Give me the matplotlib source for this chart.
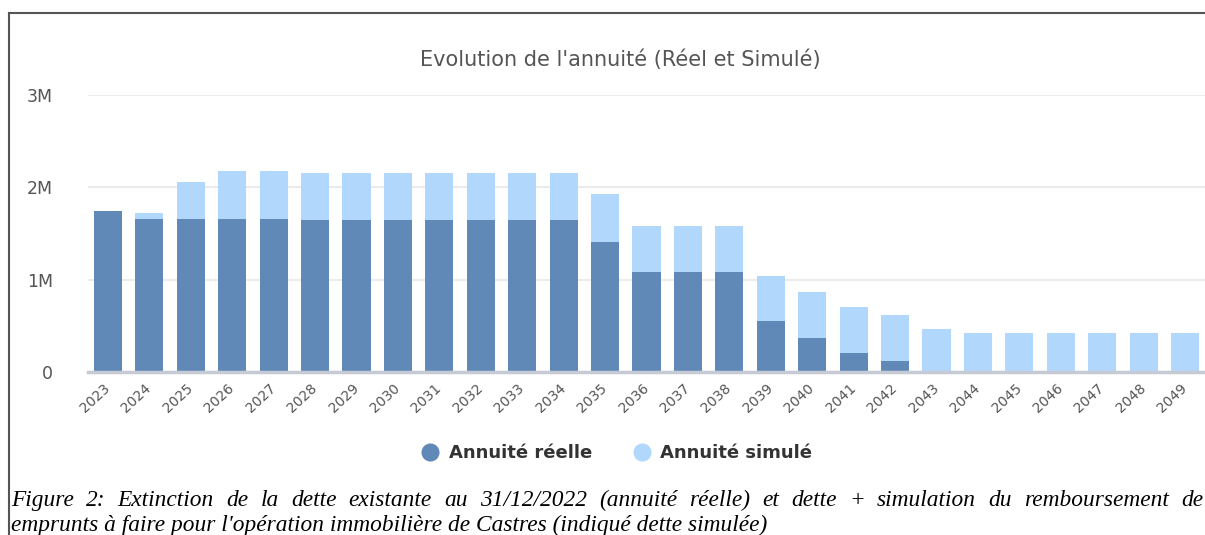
import numpy as np
import matplotlib.pyplot as plt
from matplotlib.lines import Line2D

years = [str(y) for y in range(2023, 2050)]
reelle = [1.745, 1.66, 1.66, 1.66, 1.66, 1.647, 1.647, 1.647, 1.647, 1.647, 1.647, 1.647,
          1.41, 1.08, 1.08, 1.08, 0.55, 0.367, 0.203, 0.123, 0, 0, 0, 0, 0, 0, 0]
total = [1.745, 1.726, 2.06, 2.18, 2.18, 2.15, 2.15, 2.15, 2.15, 2.15, 2.15, 2.15,
         1.926, 1.577, 1.577, 1.577, 1.043, 0.865, 0.70, 0.62, 0.469, 0.418, 0.418,
         0.418, 0.418, 0.418, 0.418]
simule = [t - r for t, r in zip(total, reelle)]
yticks = [0, 1, 2, 3]
ylabels = ["0", "1M", "2M", "3M"]

W, H = 1205, 535
fig = plt.figure(figsize=(W / 100, H / 100), dpi=100)
ax = fig.add_axes([88 / W, (H - 372) / H, (W - 88) / W, (372 - 95) / H])

x = np.arange(len(years))
c_dark = "#6189b7"
c_light = "#b1d7fd"
ax.bar(x, reelle, width=0.68, color=c_dark, label="Annuité réelle", zorder=3)
ax.bar(x, simule, width=0.68, bottom=reelle, color=c_light, label="Annuité simulé", zorder=3)

ax.set_xlim(-0.48, len(years) - 0.52)
ax.set_ylim(0, 3)
ax.set_yticks(yticks)
ax.set_yticklabels(ylabels, color="#555555", fontsize=12.5)
ax.tick_params(axis="y", length=0, pad=25)
ax.grid(axis="y", color="#ebebeb", linewidth=1.5, zorder=0)
ax.set_xticks(x)
ax.set_xticklabels(years, rotation=43, ha="right", va="center", rotation_mode="anchor",
                   fontsize=10, color="#555555")
ax.tick_params(axis="x", length=0, pad=10)
for s in ["top", "right", "left"]:
    ax.spines[s].set_visible(False)
ax.spines["bottom"].set_color("#c6cad4")
ax.spines["bottom"].set_linewidth(2.5)
ax.spines["bottom"].set_zorder(4)

fig.text(620 / W, 1 - 60 / H, "Evolution de l'annuité (Réel et Simulé)", ha="center", va="center",
         fontsize=15, color="#555555")

handles = [Line2D([], [], marker="o", linestyle="", markersize=13, color=c, markeredgewidth=0)
           for c in (c_dark, c_light)]
fig.legend(handles, ["Annuité réelle", "Annuité simulé"], loc="center", ncol=2,
           bbox_to_anchor=(616 / W, 1 - 453 / H), frameon=False, handletextpad=0.4,
           handlelength=1.2, columnspacing=2.2, prop={"size": 13, "weight": "bold"},
           labelcolor="#333333")

# border of the figure frame
fig.add_artist(Line2D([9 / W, 1], [1 - 13 / H, 1 - 13 / H], color="#555555", linewidth=1.5))
fig.add_artist(Line2D([9 / W, 9 / W], [0, 1 - 13 / H], color="#555555", linewidth=1.5))

# justified caption
line1 = ("Figure 2: Extinction de la dette existante au 31/12/2022 (annuité réelle) et dette + "
         "simulation du remboursement de")
line2 = "emprunts à faire pour l'opération immobilière de Castres (indiqué dette simulée)"
cap = dict(family="Liberation Serif", style="italic", fontsize=16.8, color="black", va="baseline")
fig.canvas.draw()
r = fig.canvas.get_renderer()
words = line1.split()
texts = [fig.text(0, 1 - 506 / H, w, **cap) for w in words]
widths = [t.get_window_extent(r).width for t in texts]
gap = (1203 - 11 - sum(widths)) / (len(words) - 1)
pos = 11
for t, w in zip(texts, widths):
    t.set_x(pos / W)
    pos += w + gap
fig.text(11 / W, 1 - 531 / H, line2, **cap)

fig.savefig("out.png", dpi=100)
